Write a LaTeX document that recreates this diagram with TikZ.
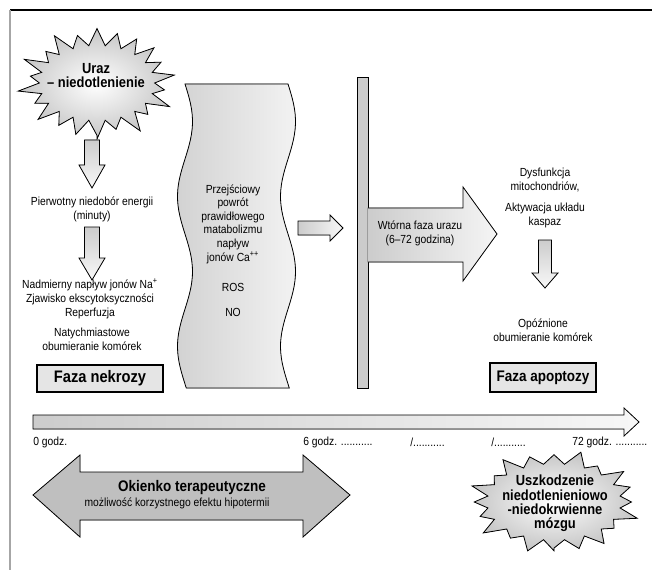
\documentclass[tikz,border=0pt]{standalone}
\usepackage{fontspec}
\setmainfont{Liberation Sans}[FakeStretch=0.88]
\begin{document}
\begin{tikzpicture}[x=0.75pt,y=-0.75pt,
  txt/.style={font=\fontsize{8.8}{10.5}\selectfont, align=center, inner sep=0pt},
  btxt/.style={font=\bfseries\fontsize{11}{10.8}\selectfont, align=center, inner sep=0pt},
  phase/.style={draw=black, line width=1.1pt, fill=gray!20, inner sep=0pt},
  outl/.style={draw=black, line width=0.6pt},
  downarr/.style={outl, top color=gray!40, bottom color=gray!5},
  rightarr/.style={outl, left color=gray!40, right color=gray!6},
  starsty/.style={outl, inner color=white, outer color=gray!45},
]
\useasboundingbox (0,0) rectangle (652,570);
% frame
\draw[line width=1pt] (10,10) -- (652,10);
\draw[gray!70, line width=0.8pt] (10,10) -- (10,570);

% top star
\filldraw[starsty] plot[samples=45, domain=0:44]
  ({97+80*ifthenelse(mod(round(\x),2)<0.5, 0.92+0.08*sin(\x*83), 0.72)*cos(\x*360/44+90)},
   {83+57*ifthenelse(mod(round(\x),2)<0.5, 0.92+0.08*sin(\x*83), 0.66)*sin(\x*360/44+90)}) -- cycle;
\node[btxt] (uraz) at (96,75.5) {Uraz\\– niedotlenienie};

% left column arrows
\filldraw[downarr] (84.5,140) -- (99.5,140) -- (99.5,165) -- (105,165) -- (92,188) -- (79,165) -- (84.5,165) -- cycle;
\node[txt] (pierw) at (92,209.5) {Pierwotny niedobór energii\\(minuty)};
\filldraw[downarr] (84.5,227) -- (99.5,227) -- (99.5,258) -- (105,258) -- (92,280) -- (79,258) -- (84.5,258) -- cycle;
\node[txt] (nadm) at (90,298.5) {Nadmierny napływ jonów Na\textsuperscript{+}\\Zjawisko ekscytoksyczności\\Reperfuzja};
\node[txt] (natych) at (92,339.5) {Natychmiastowe\\obumieranie komórek};
\node[phase, minimum width=94.5pt, minimum height=20.25pt, font=\bfseries\fontsize{12.5}{12.5}\selectfont] (nekroza) at (100,378.5) {Faza nekrozy};

% banner
\filldraw[outl, left color=gray!35, right color=gray!10]
  plot[domain=84:388, samples=61] ({185+7.5*sin((\x-84)*2.4)}, \x) --
  plot[domain=388:84, samples=61] ({288+7.5*sin((\x-84)*2.4)}, \x) -- cycle;
\node[txt, font=\fontsize{8.8}{10.2}\selectfont] (przej) at (233,224) {Przejściowy\\powrót\\prawidłowego\\matabolizmu\\napływ\\jonów Ca\textsuperscript{++}};
\node[txt] (ros) at (233,287) {ROS};
\node[txt] (no) at (233,312) {NO};

% small arrow
\filldraw[rightarr] (298,221) -- (330,221) -- (330,215) -- (343,228) -- (330,241) -- (330,235) -- (298,235) -- cycle;

% bar and big arrow
\filldraw[outl, fill=gray!40] (357,77) rectangle (368,388);
\fill[left color=gray!40, right color=gray!8] (367.4,208) -- (463,208) -- (463,187) -- (497,234) -- (463,281) -- (463,262) -- (367.4,262) -- cycle;
\draw[line width=0.6pt] (368,208) -- (463,208) -- (463,187) -- (497,234) -- (463,281) -- (463,262) -- (368,262);
\node[txt] (wtorna) at (420,233.5) {Wtórna faza urazu\\(6–72 godzina)};

% right column
\node[txt] (dysf) at (545,180) {Dysfunkcja\\mitochondriów,};
\node[txt] (aktyw) at (545,215) {Aktywacja układu\\kaspaz};
\filldraw[downarr] (538.5,240) -- (551.5,240) -- (551.5,273) -- (558,273) -- (545,288) -- (532,273) -- (538.5,273) -- cycle;
\node[txt] (opozn) at (543,330) {Opóźnione\\obumieranie komórek};
\node[phase, minimum width=79.5pt, minimum height=21.75pt, font=\bfseries\fontsize{11.5}{11.5}\selectfont] (apopt) at (543,377.5) {Faza apoptozy};

% timeline
\filldraw[rightarr] (33,415) -- (624,415) -- (624,408) -- (639,422) -- (624,436) -- (624,429) -- (33,429) -- cycle;
\node[txt, anchor=west] (t0) at (33,442) {0 godz.};
\node[txt, anchor=west] (t6) at (303,442) {6 godz. ...........};
\node[txt, anchor=west] (ta) at (410,442) {/...........};
\node[txt, anchor=west] (tb) at (491,442) {/...........};
\node[txt, anchor=west] (t72) at (572,442) {72 godz. ...........};

% double arrow
\filldraw[outl, left color=gray!50, middle color=white, right color=gray!50]
  (33,495) -- (80,455) -- (80,472) -- (303,472) -- (303,455) -- (350,495) -- (303,537) -- (303,520) -- (80,520) -- (80,537) -- cycle;
\node[inner sep=0pt, font=\bfseries\fontsize{11.5}{11.5}\selectfont] (okienko) at (192,488) {Okienko terapeutyczne};
\node[inner sep=0pt, font=\fontsize{8.8}{10.5}\selectfont] (mozl) at (177,503) {możliwość korzystnego efektu hipotermii};

% bottom star
\filldraw[starsty] plot[samples=41, domain=0:40]
  ({554+88*ifthenelse(mod(round(\x),2)<0.5, 0.92+0.08*sin(\x*71), 0.76)*cos(\x*360/40+90)},
   {502+53*ifthenelse(mod(round(\x),2)<0.5, 0.92+0.08*sin(\x*71), 0.72)*sin(\x*360/40+90)}) -- cycle;
\node[btxt] (uszk) at (555,503.5) {Uszkodzenie\\niedotlenieniowo\\-niedokrwienne\\mózgu};
\end{tikzpicture}
\end{document}
